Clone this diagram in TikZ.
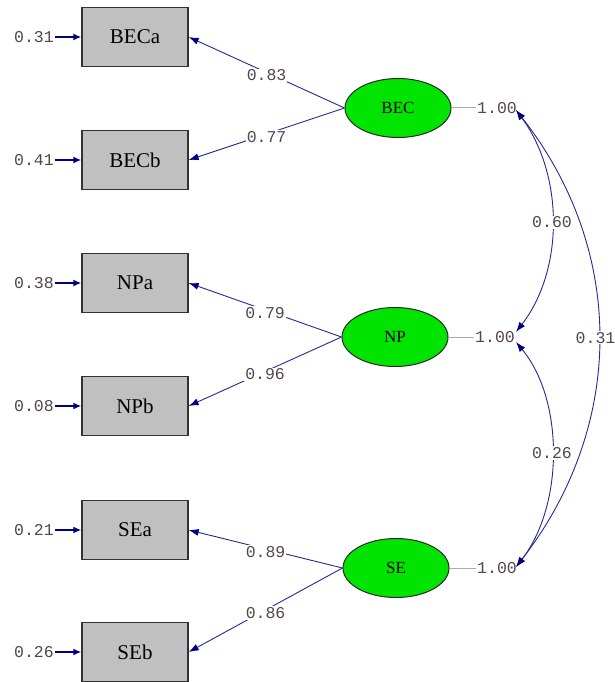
\documentclass[tikz,border=0pt]{standalone}
\usepackage{fontspec}
\setmainfont{Liberation Serif}
\newfontfamily\numfont{Liberation Mono}
\usetikzlibrary{shapes.geometric,arrows.meta}
\definecolor{pathblue}{RGB}{40,40,150}
\definecolor{tipblue}{RGB}{0,0,128}
\definecolor{boxgray}{RGB}{192,192,192}
\definecolor{latgreen}{RGB}{0,228,0}
\definecolor{numtext}{RGB}{85,70,75}
\tikzset{
  obsbox/.style={draw={rgb,255:red,50;green,50;blue,50}, line width=1.3pt, fill=boxgray,
    minimum width=106pt, minimum height=59pt, inner sep=0pt, font=\fontsize{21}{21}\selectfont},
  latent/.style={ellipse, draw={rgb,255:red,40;green,40;blue,40}, line width=1pt, fill=latgreen,
    minimum width=106pt, minimum height=59pt, inner sep=0pt, font=\fontsize{17}{17}\selectfont},
  num/.style={text=numtext, font=\numfont\fontsize{16.5}{16.5}\selectfont, inner sep=1pt},
  numbg/.style={num, fill=white},
  loading/.style={draw=pathblue, line width=0.9pt, -{Latex[length=10pt,width=7pt,color=tipblue]}},
  errarrow/.style={draw=tipblue, line width=1.6pt, -{Latex[length=8pt,width=7pt]}},
  covar/.style={draw=pathblue, line width=0.9pt,
    {Latex[length=10pt,width=7pt,color=tipblue]}-{Latex[length=10pt,width=7pt,color=tipblue]}},
  varline/.style={draw={rgb,255:red,170;green,170;blue,170}, line width=1pt}
}
\begin{document}
\begin{tikzpicture}[x=1pt,y=-1pt]
\useasboundingbox[fill=white] (0,0) rectangle (615,682);

% observed indicators
\node[obsbox] (beca) at (135,37) {BECa};
\node[obsbox] (becb) at (135,160) {BECb};
\node[obsbox] (npa)  at (135,283) {NPa};
\node[obsbox] (npb)  at (135,406) {NPb};
\node[obsbox] (sea)  at (135,530) {SEa};
\node[obsbox] (seb)  at (135,652) {SEb};

% error variances
\node[num] (ebeca) at (34,37) {0.31};
\node[num] (ebecb) at (34,160) {0.41};
\node[num] (enpa)  at (34,283) {0.38};
\node[num] (enpb)  at (34,406) {0.08};
\node[num] (esea)  at (34,530) {0.21};
\node[num] (eseb)  at (34,652) {0.26};
\foreach \e/\b in {ebeca/beca,ebecb/becb,enpa/npa,enpb/npb,esea/sea,eseb/seb}
  \draw[errarrow] (\e.east) -- (\b.west);

% latent factors
\node[latent] (bec) at (398,108) {BEC};
\node[latent] (np)  at (395,337) {NP};
\node[latent] (se)  at (396,568) {SE};

% factor variances
\node[num] (vbec) at (497,108) {1.00};
\node[num] (vnp)  at (495,337) {1.00};
\node[num] (vse)  at (497,568) {1.00};
\draw[varline] (bec.east) -- (vbec.west);
\draw[varline] (np.east) -- (vnp.west);
\draw[varline] (se.east) -- (vse.west);

% loadings
\draw[loading] (bec.west) -- node[numbg,pos=0.5,yshift=-3pt] {0.83} (beca.east);
\draw[loading] (bec.west) -- node[numbg,pos=0.5,yshift=-3pt] {0.77} (becb.east);
\draw[loading] (np.west) -- node[numbg,pos=0.5,yshift=-3pt] {0.79} (npa.east);
\draw[loading] (np.west) -- node[numbg,pos=0.5,yshift=-3pt] {0.96} (npb.east);
\draw[loading] (se.west) -- node[numbg,pos=0.5,yshift=-3pt] {0.89} (sea.east);
\draw[loading] (se.west) -- node[numbg,pos=0.5,yshift=-3pt] {0.86} (seb.east);

% covariances between factors
\coordinate (cbec) at (516,110);
\coordinate (cnpt) at (516,332);
\coordinate (cnpb) at (516,342);
\coordinate (cse)  at (516,567);
\draw[covar] (cbec) .. controls (564,175) and (564,270) .. node[numbg,pos=0.5] {0.60} (cnpt);
\draw[covar] (cnpb) .. controls (564,400) and (564,505) .. node[numbg,pos=0.5] {0.26} (cse);
\draw[covar] (cbec) .. controls (626,250) and (626,425) .. node[numbg,pos=0.5,xshift=-3pt] {0.31} (cse);
\end{tikzpicture}
\end{document}
